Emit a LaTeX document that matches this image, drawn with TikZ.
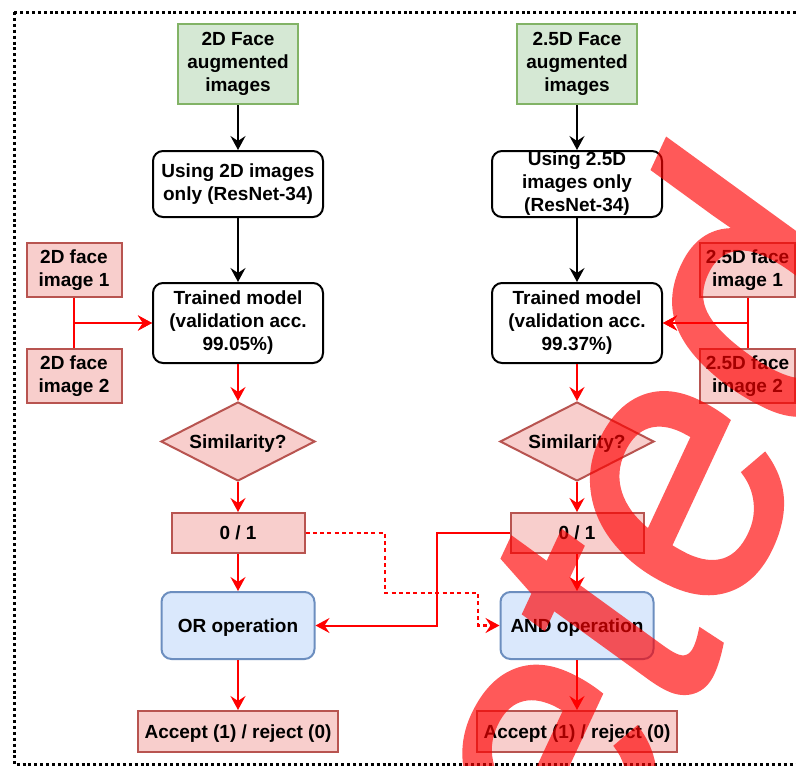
\documentclass[tikz,border=0pt]{standalone}
\usepackage{fontspec}
\setmainfont{Liberation Sans}
\newfontface\wmface{Liberation Sans Italic}[FakeBold=1.4]
\usetikzlibrary{shapes.geometric,arrows.meta}
\definecolor{gfill}{HTML}{D5E8D4}
\definecolor{gdraw}{HTML}{82B366}
\definecolor{rfill}{HTML}{F8CECC}
\definecolor{rdraw}{HTML}{B85450}
\definecolor{bfill}{HTML}{DAE8FC}
\definecolor{bdraw}{HTML}{6C8EBF}
\definecolor{wmred}{HTML}{FF0000}
\tikzset{
  basenode/.style={font=\fontsize{19}{23}\selectfont\bfseries, align=center, inner sep=0pt, line width=2pt,
    execute at begin node={\rule{0pt}{0.905em}}, execute at end node={\rule[-0.212em]{0pt}{0pt}}},
  greenbox/.style={basenode, draw=gdraw, fill=gfill, minimum width=120pt, minimum height=80pt},
  procbox/.style={basenode, draw=black, fill=white, rounded corners=10pt, minimum width=170pt},
  inbox/.style={basenode, draw=rdraw, fill=rfill, minimum width=95pt, minimum height=54pt},
  simdiamond/.style={basenode, diamond, aspect=1.95, draw=rdraw, fill=rfill, minimum width=154pt, minimum height=79pt},
  bitbox/.style={basenode, draw=rdraw, fill=rfill, minimum width=133pt, minimum height=40pt},
  opbox/.style={basenode, draw=bdraw, fill=bfill, rounded corners=10pt, minimum width=153pt, minimum height=67pt},
  outbox/.style={basenode, draw=rdraw, fill=rfill, minimum width=200pt, minimum height=41pt},
  tip/.style={-{Stealth[length=14pt,width=15pt,inset=5pt]}},
  blackflow/.style={line width=2pt, draw=black, tip},
  redflow/.style={line width=2pt, draw=red, tip},
  reddot/.style={line width=2.8pt, draw=red, dash pattern=on 4pt off 3.3pt, tip},
  frame/.style={line width=3pt, draw=black, dash pattern=on 3pt off 2.9pt},
}
\begin{document}
\begin{tikzpicture}[x=1pt,y=-1pt]
\useasboundingbox (0,0) rectangle (796,766);
\fill[white] (0,0) rectangle (796,766);
\draw[frame] (14,12) rectangle (800,764.5);

% left column
\node[greenbox] (g1) at (238,64) {2D Face\\augmented\\images};
\node[procbox, minimum height=66pt] (u1) at (238,184) {Using 2D images\\only (ResNet-34)};
\node[procbox, minimum height=80pt] (t1) at (238,323) {Trained model\\(validation acc.\\99.05\%)};
\node[inbox] (i1) at (74,270) {2D face\\image 1};
\node[inbox] (i2) at (74,376) {2D face\\image 2};
\node[simdiamond] (s1) at (238,441.5) {Similarity?};
\node[bitbox] (z1) at (238,533) {0 / 1};
\node[opbox] (o1) at (238,625.5) {OR operation};
\node[outbox] (a1) at (238,731.5) {Accept (1) / reject (0)};

% right column
\node[greenbox] (g2) at (577,64) {2.5D Face\\augmented\\images};
\node[procbox, minimum height=66pt] (u2) at (577,184) {Using 2.5D\\images only\\(ResNet-34)};
\node[procbox, minimum height=80pt] (t2) at (577,323) {Trained model\\(validation acc.\\99.37\%)};
\node[inbox] (i3) at (747.5,270) {2.5D face\\image 1};
\node[inbox] (i4) at (747.5,376) {2.5D face\\image 2};
\node[simdiamond] (s2) at (577,441.5) {Similarity?};
\node[bitbox] (z2) at (577,533) {0 / 1};
\node[opbox] (o2) at (577,625.5) {AND operation};
\node[outbox] (a2) at (577,731.5) {Accept (1) / reject (0)};

% connectors
\draw[blackflow] (g1) -- (u1);
\draw[blackflow] (u1) -- (t1);
\draw[blackflow] (g2) -- (u2);
\draw[blackflow] (u2) -- (t2);

\draw[redflow] (i1.south) |- (t1.west);
\draw[redflow] (i2.north) |- (t1.west);
\draw[redflow] (i3.south) |- (t2.east);
\draw[redflow] (i4.north) |- (t2.east);

\draw[redflow] (t1) -- (s1);
\draw[redflow] (s1) -- (z1);
\draw[redflow] (z1) -- (o1);
\draw[redflow] (o1) -- (a1);
\draw[redflow] (t2) -- (s2);
\draw[redflow] (s2) -- (z2);
\draw[redflow] (z2) -- (o2);
\draw[redflow] (o2) -- (a2);

\coordinate (d1) at (385,533);
\coordinate (d2) at (385,593);
\coordinate (d3) at (478,593);
\coordinate (d4) at (478,625.5);
\draw[reddot] (z1.east) -- (d1) -- (d2) -- (d3) -- (d4) -- (o2.west);

\coordinate (e1) at (437,580);
\draw[redflow] (z2.west) -| (e1) |- (o1.east);

% watermark
\begin{scope}[transparency group, opacity=0.65]
\clip (0,0) rectangle (796,766);
\node[font=\wmface\fontsize{362}{362}\selectfont, text=wmred, rotate=65, anchor=base east, inner sep=0pt] (wm) at (901,259.5) {Deleted};
\end{scope}
\end{tikzpicture}
\end{document}
